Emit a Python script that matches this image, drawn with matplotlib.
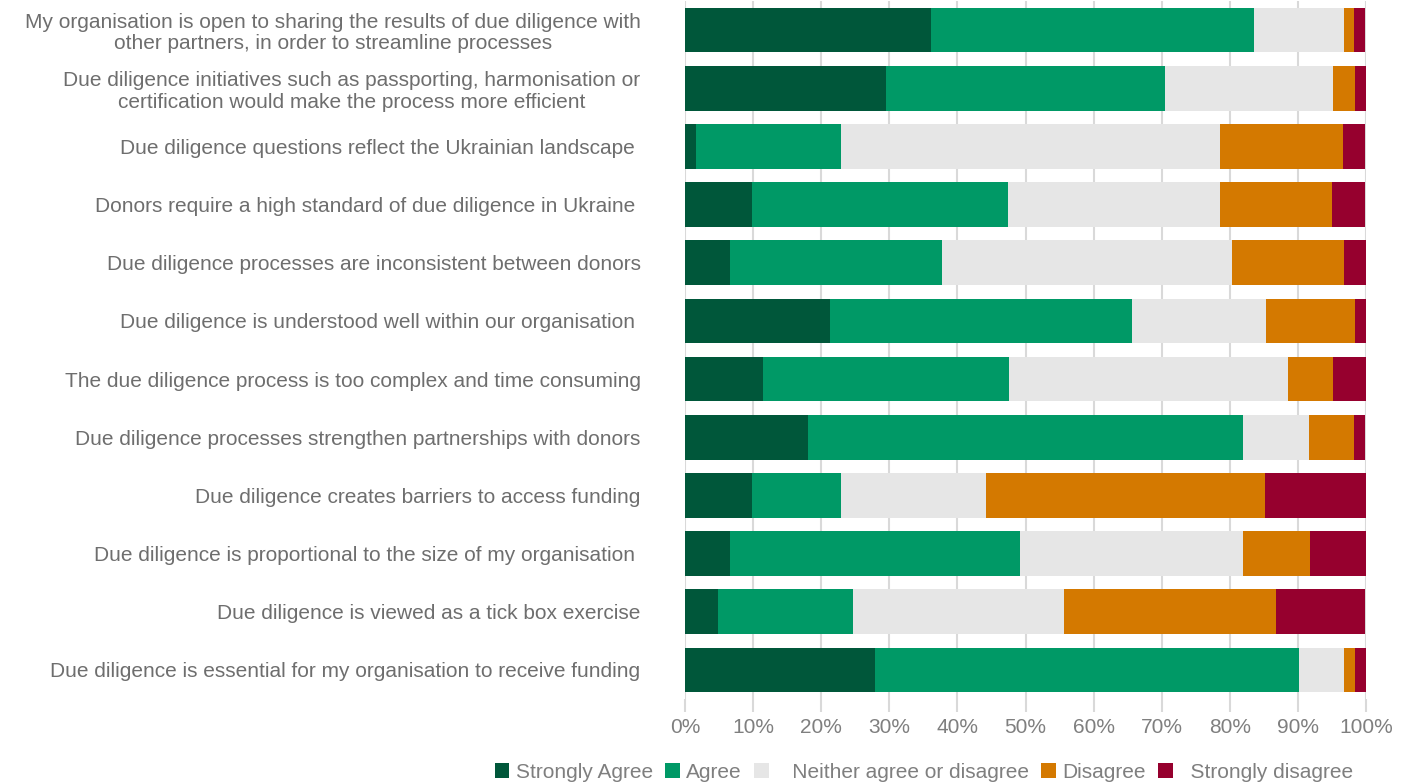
import matplotlib
matplotlib.use("Agg")
import matplotlib.pyplot as plt
import numpy as np

plt.rcParams['font.family'] = ['Liberation Sans', 'DejaVu Sans']

statements = [
    "My organisation is open to sharing the results of due diligence with\nother partners, in order to streamline processes",
    "Due diligence initiatives such as passporting, harmonisation or\ncertification would make the process more efficient",
    "Due diligence questions reflect the Ukrainian landscape ",
    "Donors require a high standard of due diligence in Ukraine ",
    "Due diligence processes are inconsistent between donors",
    "Due diligence is understood well within our organisation ",
    "The due diligence process is too complex and time consuming",
    "Due diligence processes strengthen partnerships with donors",
    "Due diligence creates barriers to access funding",
    "Due diligence is proportional to the size of my organisation ",
    "Due diligence is viewed as a tick box exercise",
    "Due diligence is essential for my organisation to receive funding",
]

strongly_agree = [36.1, 29.5, 1.6, 9.8, 6.6, 21.3, 11.5, 18.0, 9.8, 6.6, 4.9, 27.9]
agree          = [47.5, 41.0, 21.3, 37.7, 31.1, 44.3, 36.1, 63.9, 13.1, 42.6, 19.7, 62.3]
neither        = [13.1, 24.6, 55.7, 31.1, 42.6, 19.7, 41.0, 9.8, 21.3, 32.8, 31.1, 6.6]
disagree       = [1.6, 3.3, 18.0, 16.4, 16.4, 13.1, 6.6, 6.6, 41.0, 9.8, 31.1, 1.6]
strongly_dis   = [1.6, 1.6, 3.3, 4.9, 3.3, 1.6, 4.9, 1.6, 14.8, 8.2, 13.1, 1.6]

series = [
    ("Strongly Agree", strongly_agree, "#00573A"),
    ("Agree", agree, "#009966"),
    ("   Neither agree or disagree", neither, "#E6E6E6"),
    ("Disagree", disagree, "#D47900"),
    ("  Strongly disagree", strongly_dis, "#96002E"),
]

text_gray = "#6E6E6E"
tick_gray = "#7F7F7F"
grid_gray = "#D9D9D9"

fig = plt.figure(figsize=(14.10, 7.82), dpi=100)
ax = fig.add_axes([685 / 1410, 1 - 699 / 782, 681 / 1410, 698 / 782])

y = np.arange(len(statements))
left = np.zeros(len(statements))
handles = []
for name, vals, color in series:
    vals = np.array(vals, dtype=float)
    b = ax.barh(y, vals, left=left, height=0.77, color=color, label=name, zorder=3)
    handles.append(b)
    left += vals

ax.set_xlim(0, 100)
ax.set_ylim(len(statements) - 0.5, -0.5)
ax.set_xticks(np.arange(0, 101, 10))
ax.set_xticklabels([f"{v}%" for v in range(0, 101, 10)], fontsize=15, color=tick_gray)
ax.set_yticks(y)
ax.set_yticklabels(statements, fontsize=15, color=text_gray, ha='right',
                   multialignment='center', linespacing=1.15)
ax.tick_params(axis='y', length=0, pad=32)
ax.tick_params(axis='x', length=9, width=1.5, color=grid_gray, pad=5)
ax.grid(axis='x', color=grid_gray, linewidth=1.5, zorder=0)
for s in ax.spines.values():
    s.set_visible(False)

fig.legend(handles=handles, loc='lower center', bbox_to_anchor=(924 / 1410, -0.024),
           ncol=5, frameon=False, fontsize=15, labelcolor=tick_gray,
           handlelength=0.7, handleheight=0.7, handletextpad=0.3, columnspacing=0.6)

fig.savefig("out.png", dpi=100)
